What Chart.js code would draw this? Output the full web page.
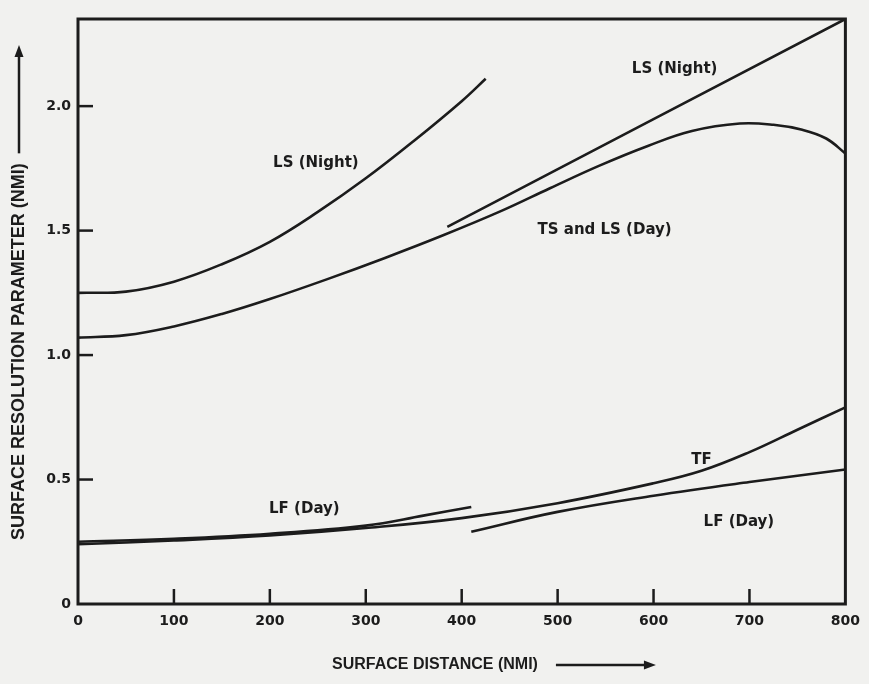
<!DOCTYPE html>
<html>
<head>
<meta charset="utf-8">
<script src="https://cdn.jsdelivr.net/npm/chart.js@4/dist/chart.umd.min.js"></script>
<style>
  html, body { margin: 0; padding: 0; background: #f1f1ef; }
  #wrap { width: 869px; height: 684px; }
</style>
</head>
<body>
<div id="wrap"><canvas id="myChart" width="869" height="684"></canvas></div>
<script>
// tick labels
const xTicks = [0, 100, 200, 300, 400, 500, 600, 700, 800];
const yTicks = [0, 0.5, 1.0, 1.5, 2.0];

// LS (Night) - curved, upper left
const lsNightCurveX = [0, 50, 100, 150, 200, 250, 300, 350, 400, 425];
const lsNightCurveY = [1.25, 1.255, 1.295, 1.365, 1.455, 1.575, 1.71, 1.86, 2.02, 2.11];

// LS (Night) - straight line to the top right corner
const lsNightLineX = [385, 800];
const lsNightLineY = [1.515, 2.35];

// TS and LS (Day)
const tsDayX = [0, 50, 100, 150, 200, 260, 320, 380, 442, 492, 543, 594, 640, 690, 725, 755, 780, 800];
const tsDayY = [1.07, 1.08, 1.115, 1.165, 1.225, 1.305, 1.39, 1.48, 1.58, 1.67, 1.76, 1.84, 1.90, 1.93, 1.925, 1.905, 1.87, 1.81];

// TF
const tfX = [0, 100, 200, 300, 400, 500, 600, 650, 700, 750, 800];
const tfY = [0.24, 0.255, 0.275, 0.305, 0.345, 0.405, 0.485, 0.535, 0.61, 0.70, 0.79];

// LF (Day) - first piece
const lfDayAX = [0, 100, 200, 300, 360, 410];
const lfDayAY = [0.25, 0.262, 0.282, 0.315, 0.355, 0.39];

// LF (Day) - second piece
const lfDayBX = [410, 500, 600, 700, 800];
const lfDayBY = [0.29, 0.37, 0.435, 0.49, 0.54];

// curve labels
const curveLabels = ['LS (Night)', 'LS (Night)', 'TS and LS (Day)', 'TF', 'LF (Day)', 'LF (Day)'];
const labelX = [248, 622, 549, 650, 689, 236];
const labelY = [1.77, 2.15, 1.50, 0.58, 0.33, 0.38];

const ink = '#1c1c1c';

function pts(xs, ys) {
  return xs.map((v, i) => ({ x: v, y: ys[i] }));
}

function curve(xs, ys) {
  return {
    data: pts(xs, ys),
    borderColor: ink,
    borderWidth: 2.6,
    pointRadius: 0,
    fill: false,
    tension: 0.4
  };
}

function arrow(ctx, x1, y1, x2, y2) {
  const ang = Math.atan2(y2 - y1, x2 - x1);
  ctx.beginPath();
  ctx.moveTo(x1, y1);
  ctx.lineTo(x2 - 9 * Math.cos(ang), y2 - 9 * Math.sin(ang));
  ctx.stroke();
  ctx.beginPath();
  ctx.moveTo(x2, y2);
  ctx.lineTo(x2 - 12 * Math.cos(ang) + 4.5 * Math.sin(ang), y2 - 12 * Math.sin(ang) - 4.5 * Math.cos(ang));
  ctx.lineTo(x2 - 12 * Math.cos(ang) - 4.5 * Math.sin(ang), y2 - 12 * Math.sin(ang) + 4.5 * Math.cos(ang));
  ctx.closePath();
  ctx.fill();
}

const paper = {
  id: 'paper',
  beforeDraw(chart) {
    const ctx = chart.ctx;
    ctx.save();
    ctx.fillStyle = '#f1f1ef';
    ctx.fillRect(0, 0, chart.width, chart.height);
    ctx.restore();
  },
  afterDraw(chart) {
    const { ctx, chartArea: a, scales: { x, y } } = chart;
    ctx.save();
    ctx.strokeStyle = ink;
    ctx.fillStyle = ink;

    // frame
    ctx.lineWidth = 3;
    ctx.strokeRect(a.left, a.top, a.right - a.left, a.bottom - a.top);

    // inner tick marks
    ctx.lineWidth = 2.5;
    xTicks.forEach(v => {
      if (v === 0 || v === 800) return;
      const px = x.getPixelForValue(v);
      ctx.beginPath();
      ctx.moveTo(px, a.bottom);
      ctx.lineTo(px, a.bottom - 15);
      ctx.stroke();
    });
    yTicks.forEach(v => {
      if (v === 0) return;
      const py = y.getPixelForValue(v);
      ctx.beginPath();
      ctx.moveTo(a.left, py);
      ctx.lineTo(a.left + 15, py);
      ctx.stroke();
    });

    // curve labels
    ctx.font = 'bold 15px "DejaVu Sans"';
    ctx.textAlign = 'center';
    ctx.textBaseline = 'middle';
    curveLabels.forEach((t, i) => {
      ctx.fillText(t, x.getPixelForValue(labelX[i]), y.getPixelForValue(labelY[i]));
    });

    // x axis title
    ctx.font = 'bold 16px "Liberation Sans"';
    ctx.textAlign = 'left';
    const xt = 'SURFACE DISTANCE (NMI)';
    ctx.fillText(xt, 332, 665);
    ctx.lineWidth = 2.5;
    const xEnd = 332 + ctx.measureText(xt).width;
    arrow(ctx, xEnd + 18, 665, xEnd + 118, 665);

    // y axis title
    ctx.translate(19, 540);
    ctx.rotate(-Math.PI / 2);
    const yt = 'SURFACE RESOLUTION PARAMETER (NMI)';
    ctx.font = 'bold 18px "Liberation Sans"';
    ctx.fillText(yt, 0, 0);
    const yEnd = ctx.measureText(yt).width;
    arrow(ctx, yEnd + 10, 0, 495, 0);
    ctx.restore();
  }
};

const ctx = document.getElementById('myChart');

new Chart(ctx, {
  type: 'line',
  data: {
    datasets: [
      curve(lsNightCurveX, lsNightCurveY),
      curve(lsNightLineX, lsNightLineY),
      curve(tsDayX, tsDayY),
      curve(tfX, tfY),
      curve(lfDayAX, lfDayAY),
      curve(lfDayBX, lfDayBY)
    ]
  },
  options: {
    responsive: false,
    animation: false,
    layout: { padding: { top: 19, right: 12, left: 0, bottom: 0 } },
    plugins: {
      legend: { display: false },
      tooltip: { enabled: false }
    },
    scales: {
      x: {
        type: 'linear',
        min: 0,
        max: 800,
        afterBuildTicks: s => { s.ticks = xTicks.map(v => ({ value: v })); },
        ticks: {
          color: ink,
          padding: 9,
          maxRotation: 0,
          font: { family: 'DejaVu Sans', weight: 'bold', size: 14 }
        },
        grid: { display: false, drawTicks: false },
        border: { display: false },
        afterFit: s => { s.height = 80; }
      },
      y: {
        type: 'linear',
        min: 0,
        max: 2.35,
        afterBuildTicks: s => { s.ticks = yTicks.map(v => ({ value: v })); },
        ticks: {
          color: ink,
          padding: 7,
          font: { family: 'DejaVu Sans', weight: 'bold', size: 14 },
          callback: v => (v === 0 ? '0' : v.toFixed(1))
        },
        grid: { display: false, drawTicks: false },
        border: { display: false },
        afterFit: s => { s.height = s.height; s.width = 78; }
      }
    }
  },
  plugins: [paper]
});
</script>
</body>
</html>
